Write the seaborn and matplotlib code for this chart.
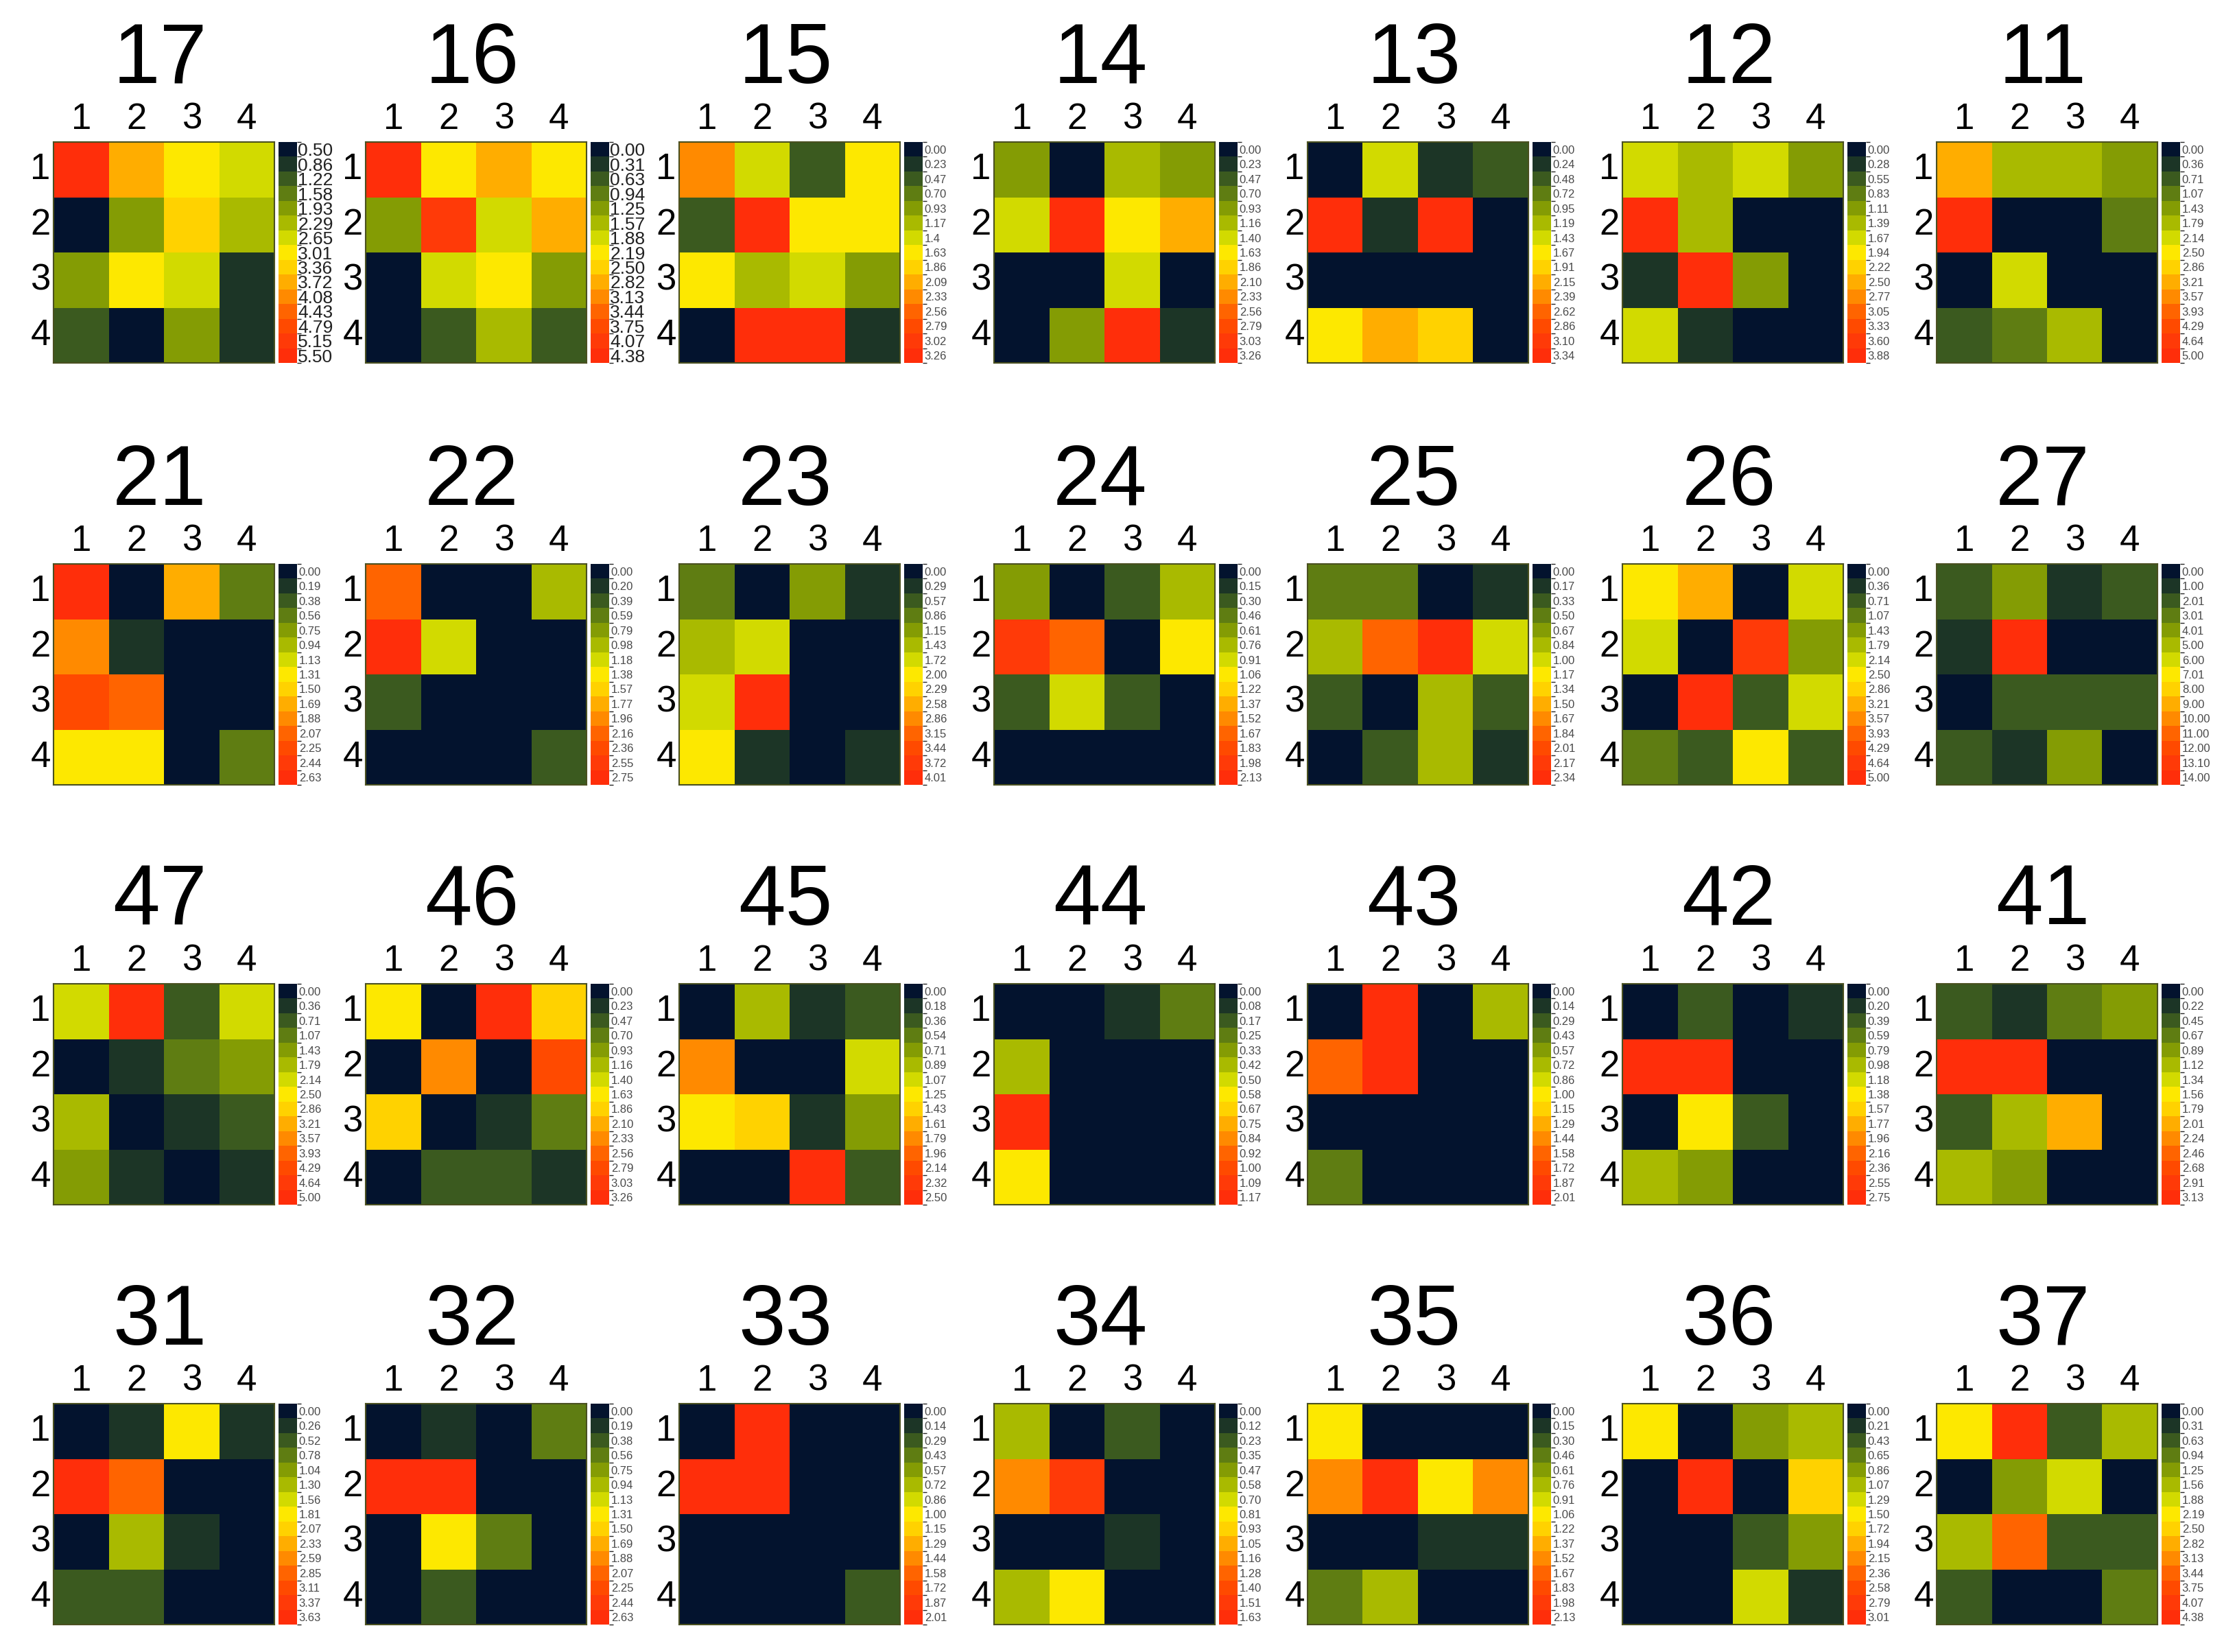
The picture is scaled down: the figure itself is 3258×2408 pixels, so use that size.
import numpy as np
import pandas as pd
import matplotlib
matplotlib.use('Agg')
import matplotlib.pyplot as plt
from matplotlib.colors import ListedColormap, BoundaryNorm
import seaborn as sns

sns.set_theme(style='white')
plt.rcParams['font.family'] = ['Liberation Sans', 'DejaVu Sans']

# 15 legend colours, low -> high
level_colors = ['#03132e', '#1c3526', '#3b5a1f', '#5f7d12', '#849c04',
                '#a9ba00', '#d2da00', '#fde800', '#ffd200', '#ffad00',
                '#ff8a00', '#ff6400', '#ff4a00', '#ff3a08', '#ff2e0a']

axis_labels = ['1', '2', '3', '4']

grid_ids = [['17', '16', '15', '14', '13', '12', '11'],
            ['21', '22', '23', '24', '25', '26', '27'],
            ['47', '46', '45', '44', '43', '42', '41'],
            ['31', '32', '33', '34', '35', '36', '37']]

# legend min / max per panel
panel_lo = {'17': 0.50}
panel_hi = {'17': 5.50, '16': 4.38, '15': 3.26, '14': 3.26, '13': 3.34, '12': 3.88, '11': 5.00,
            '21': 2.63, '22': 2.75, '23': 4.01, '24': 2.13, '25': 2.34, '26': 5.00, '27': 14.00,
            '47': 5.00, '46': 3.26, '45': 2.50, '44': 1.17, '43': 2.01, '42': 2.75, '41': 3.13,
            '31': 3.63, '32': 2.63, '33': 2.01, '34': 1.63, '35': 2.13, '36': 3.01, '37': 4.38}

# legend texts as printed where they differ from plain rounding
legend_text = {
    '17': ['0.50', '0.86', '1.22', '1.58', '1.93', '2.29', '2.65', '3.01',
           '3.36', '3.72', '4.08', '4.43', '4.79', '5.15', '5.50'],
    '16': ['0.00', '0.31', '0.63', '0.94', '1.25', '1.57', '1.88', '2.19',
           '2.50', '2.82', '3.13', '3.44', '3.75', '4.07', '4.38'],
    '15': ['0.00', '0.23', '0.47', '0.70', '0.93', '1.17', '1.4', '1.63',
           '1.86', '2.09', '2.33', '2.56', '2.79', '3.02', '3.26'],
    '12': ['0.00', '0.28', '0.55', '0.83', '1.11', '1.39', '1.67', '1.94',
           '2.22', '2.50', '2.77', '3.05', '3.33', '3.60', '3.88'],
    '27': ['0.00', '1.00', '2.01', '3.01', '4.01', '5.00', '6.00', '7.01',
           '8.00', '9.00', '10.00', '11.00', '12.00', '13.10', '14.00'],
}

v17 = [[5.50, 3.72, 3.01, 2.65], [0.50, 1.93, 3.36, 2.29], [1.93, 3.01, 2.65, 0.86], [1.22, 0.50, 1.93, 0.86]]
v16 = [[4.38, 2.19, 2.82, 2.19], [1.25, 4.07, 1.88, 2.82], [0.00, 1.88, 2.19, 1.25], [0.00, 0.63, 1.57, 0.63]]
v15 = [[2.33, 1.40, 0.47, 1.63], [0.47, 3.26, 1.63, 1.63], [1.63, 1.17, 1.40, 0.93], [0.00, 3.26, 3.26, 0.23]]
v14 = [[0.93, 0.00, 1.17, 0.93], [1.40, 3.26, 1.63, 2.09], [0.00, 0.00, 1.40, 0.00], [0.00, 0.93, 3.26, 0.23]]
v13 = [[0.00, 1.43, 0.24, 0.48], [3.34, 0.24, 3.34, 0.00], [0.00, 0.00, 0.00, 0.00], [1.67, 2.15, 1.91, 0.00]]
v12 = [[1.67, 1.39, 1.67, 1.11], [3.88, 1.39, 0.00, 0.00], [0.28, 3.88, 1.11, 0.00], [1.67, 0.28, 0.00, 0.00]]
v11 = [[3.22, 1.79, 1.79, 1.43], [5.00, 0.00, 0.00, 1.08], [0.00, 2.15, 0.00, 0.00], [0.72, 1.08, 1.79, 0.00]]
v21 = [[2.63, 0.00, 1.69, 0.56], [1.88, 0.19, 0.00, 0.00], [2.26, 2.07, 0.00, 0.00], [1.32, 1.32, 0.00, 0.56]]
v22 = [[2.17, 0.00, 0.00, 0.98], [2.75, 1.18, 0.00, 0.00], [0.39, 0.00, 0.00, 0.00], [0.00, 0.00, 0.00, 0.39]]
v23 = [[0.86, 0.00, 1.15, 0.29], [1.43, 1.72, 0.00, 0.00], [1.72, 4.01, 0.00, 0.00], [2.01, 0.29, 0.00, 0.29]]
v24 = [[0.61, 0.00, 0.30, 0.76], [1.98, 1.67, 0.00, 1.07], [0.30, 0.91, 0.30, 0.00], [0.00, 0.00, 0.00, 0.00]]
v25 = [[0.50, 0.50, 0.00, 0.17], [0.83, 1.84, 2.34, 1.00], [0.33, 0.00, 0.83, 0.33], [0.00, 0.33, 0.83, 0.17]]
v26 = [[2.50, 3.22, 0.00, 2.15], [2.15, 0.00, 4.65, 1.43], [0.00, 5.00, 0.72, 2.15], [1.08, 0.72, 2.50, 0.72]]
v27 = [[2.01, 4.01, 1.00, 2.01], [1.00, 14.00, 0.00, 0.00], [0.00, 2.01, 2.01, 2.01], [2.01, 1.00, 4.01, 0.00]]
v47 = [[2.15, 5.00, 0.72, 2.15], [0.00, 0.36, 1.08, 1.43], [1.79, 0.00, 0.36, 0.72], [1.43, 0.36, 0.00, 0.36]]
v46 = [[1.63, 0.00, 3.26, 1.86], [0.00, 2.33, 0.00, 2.79], [1.86, 0.00, 0.23, 0.70], [0.00, 0.47, 0.47, 0.23]]
v45 = [[0.00, 0.89, 0.18, 0.36], [1.79, 0.00, 0.00, 1.08], [1.25, 1.43, 0.18, 0.72], [0.00, 0.00, 2.50, 0.36]]
v44 = [[0.00, 0.00, 0.08, 0.25], [0.42, 0.00, 0.00, 0.00], [1.17, 0.00, 0.00, 0.00], [0.58, 0.00, 0.00, 0.00]]
v43 = [[0.00, 2.01, 0.00, 0.72], [1.58, 2.01, 0.00, 0.00], [0.00, 0.00, 0.00, 0.00], [0.43, 0.00, 0.00, 0.00]]
v42 = [[0.00, 0.39, 0.00, 0.20], [2.75, 2.75, 0.00, 0.00], [0.00, 1.38, 0.39, 0.00], [0.98, 0.79, 0.00, 0.00]]
v41 = [[0.45, 0.22, 0.67, 0.89], [3.13, 3.13, 0.00, 0.00], [0.45, 1.12, 2.01, 0.00], [1.12, 0.89, 0.00, 0.00]]
v31 = [[0.00, 0.26, 1.82, 0.26], [3.63, 2.85, 0.00, 0.00], [0.00, 1.30, 0.26, 0.00], [0.52, 0.52, 0.00, 0.00]]
v32 = [[0.00, 0.19, 0.00, 0.56], [2.63, 2.63, 0.00, 0.00], [0.00, 1.32, 0.56, 0.00], [0.00, 0.38, 0.00, 0.00]]
v33 = [[0.00, 2.01, 0.00, 0.00], [2.01, 2.01, 0.00, 0.00], [0.00, 0.00, 0.00, 0.00], [0.00, 0.00, 0.00, 0.29]]
v34 = [[0.58, 0.00, 0.23, 0.00], [1.17, 1.51, 0.00, 0.00], [0.00, 0.00, 0.12, 0.00], [0.58, 0.81, 0.00, 0.00]]
v35 = [[1.07, 0.00, 0.00, 0.00], [1.52, 2.13, 1.07, 1.52], [0.00, 0.00, 0.15, 0.15], [0.46, 0.76, 0.00, 0.00]]
v36 = [[1.51, 0.00, 0.86, 1.08], [0.00, 3.01, 0.00, 1.72], [0.00, 0.00, 0.43, 0.86], [0.00, 0.00, 1.29, 0.22]]
v37 = [[2.19, 4.38, 0.63, 1.57], [0.00, 1.25, 1.88, 0.00], [1.57, 3.44, 0.63, 0.63], [0.63, 0.00, 0.00, 0.94]]

values = {'17': v17, '16': v16, '15': v15, '14': v14, '13': v13, '12': v12, '11': v11,
          '21': v21, '22': v22, '23': v23, '24': v24, '25': v25, '26': v26, '27': v27,
          '47': v47, '46': v46, '45': v45, '44': v44, '43': v43, '42': v42, '41': v41,
          '31': v31, '32': v32, '33': v33, '34': v34, '35': v35, '36': v36, '37': v37}

big_legend = ['17', '16']

# layout in pixels
W, H = 3258, 2408
col_left = [78, 533, 990, 1449, 1906, 2365, 2823]
row_top = [207, 822, 1434, 2046]
size = 322

cmap = ListedColormap(level_colors)

fig = plt.figure(figsize=(W / 100, H / 100), dpi=100)
fig.patch.set_facecolor('white')

for r, row in enumerate(grid_ids):
    for c, pid in enumerate(row):
        x0, y0 = col_left[c], row_top[r]
        ax = fig.add_axes([x0 / W, 1 - (y0 + size) / H, size / W, size / H])
        cax = fig.add_axes([(x0 + size + 6) / W, 1 - (y0 + size) / H, 27 / W, size / H])

        lo = panel_lo.get(pid, 0.0)
        hi = panel_hi[pid]
        ticks = np.linspace(lo, hi, 15)
        step = (hi - lo) / 14
        norm = BoundaryNorm(np.linspace(lo - step / 2, hi + step / 2, 16), 15)

        df = pd.DataFrame(values[pid], index=axis_labels, columns=axis_labels)
        sns.heatmap(df, ax=ax, cmap=cmap, norm=norm, cbar_ax=cax,
                    cbar_kws={'drawedges': True, 'ticks': ticks})

        # heatmap axes: labels on top / left
        ax.xaxis.tick_top()
        ax.tick_params(axis='both', length=0, labelsize=38, colors='black')
        ax.tick_params(axis='x', pad=6)
        ax.tick_params(axis='y', pad=3)
        plt.setp(ax.get_yticklabels(), rotation=0)
        plt.setp(ax.get_xticklabels(), rotation=0)
        for s in ax.spines.values():
            s.set_visible(True)
            s.set_linewidth(1.5)
            s.set_color('#4a5020')

        # legend
        cb = ax.collections[0].colorbar
        cb.dividers.set_color('#e6e6e6')
        cb.dividers.set_linewidth(3)
        cax.invert_yaxis()
        cb.set_ticks(ticks)
        cb.set_ticklabels(legend_text.get(pid, ['%.2f' % t for t in ticks]))
        if pid in big_legend:
            cax.tick_params(length=0, pad=1, labelsize=19, labelcolor='#222222')
        else:
            cax.tick_params(length=0, pad=2, labelsize=12, labelcolor='#4a4a4a')

        # panel number
        fig.text((x0 + size / 2 - 6) / W, 1 - (y0 - 86) / H, pid,
                 ha='center', va='baseline', fontsize=89, color='black')

fig.savefig('out.png', dpi=100, facecolor='white')
